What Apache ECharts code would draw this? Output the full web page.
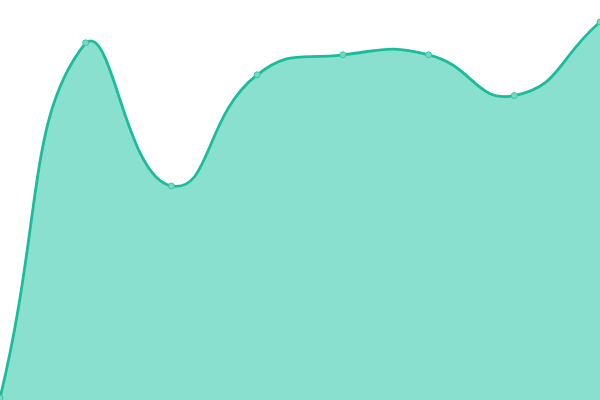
<!DOCTYPE html>
<html><head><meta charset="utf-8">
<script src="https://cdn.jsdelivr.net/npm/echarts@6/dist/echarts.min.js"></script>
<style>html,body{margin:0;padding:0;background:#fff}#c{width:600px;height:400px}</style>
</head><body><div id="c"></div>
<script>
var categories = ['1','2','3','4','5','6','7','8'];
var values = [0.5, 89.3, 53.5, 81.3, 86.3, 86.3, 76.1, 94.5];

var SMOOTH = 0.5;
function smoothPath(pts) {
  // Bezier smoothing constrained to the bounding box of the points
  var minX = Infinity, minY = Infinity, maxX = -Infinity, maxY = -Infinity;
  pts.forEach(function (p) {
    minX = Math.min(minX, p[0]); maxX = Math.max(maxX, p[0]);
    minY = Math.min(minY, p[1]); maxY = Math.max(maxY, p[1]);
  });
  var cps = [];
  for (var i = 0; i < pts.length; i++) {
    var p = pts[i];
    var prev = i === 0 ? p : pts[i - 1];
    var next = i === pts.length - 1 ? p : pts[i + 1];
    var vx = (next[0] - prev[0]) * SMOOTH, vy = (next[1] - prev[1]) * SMOOTH;
    var d0 = Math.hypot(p[0] - prev[0], p[1] - prev[1]);
    var d1 = Math.hypot(p[0] - next[0], p[1] - next[1]);
    var s = d0 + d1;
    if (s !== 0) { d0 /= s; d1 /= s; }
    var c0 = [p[0] - vx * d0, p[1] - vy * d0];
    var c1 = [p[0] + vx * d1, p[1] + vy * d1];
    [c0, c1].forEach(function (c) {
      c[0] = Math.min(Math.max(c[0], minX), maxX);
      c[1] = Math.min(Math.max(c[1], minY), maxY);
    });
    cps.push([c0, c1]);
  }
  var d = 'M' + pts[0][0] + ' ' + pts[0][1];
  for (var j = 1; j < pts.length; j++) {
    var a = cps[j - 1][1], b = cps[j][0];
    d += ' C' + a[0] + ' ' + a[1] + ' ' + b[0] + ' ' + b[1] + ' ' + pts[j][0] + ' ' + pts[j][1];
  }
  return d;
}

var chart = echarts.init(document.getElementById('c'));
chart.setOption({
  animation: false,
  grid: {left: 0, right: 0, top: 0, bottom: 0},
  xAxis: {type: 'category', data: categories, boundaryGap: false, show: false},
  yAxis: {type: 'value', min: 0, max: 100, show: false},
  series: [{
    type: 'custom',
    clip: false,
    data: values,
    renderItem: function (params, api) {
      if (params.dataIndex !== 0) return null;
      var pts = values.map(function (v, i) { return api.coord([i, v]); });
      var bottom = api.coord([0, 0])[1];
      var line = smoothPath(pts);
      var area = line + ' L' + pts[pts.length - 1][0] + ' ' + bottom + ' L' + pts[0][0] + ' ' + bottom + ' Z';
      var children = [
        {type: 'path', shape: {pathData: area}, style: {fill: '#89e0cf', stroke: null}},
        {type: 'path', shape: {pathData: line}, style: {fill: null, stroke: '#1abc9c', lineWidth: 2.8}}
      ];
      pts.forEach(function (p) {
        children.push({type: 'circle', shape: {cx: p[0], cy: p[1], r: 3},
          style: {fill: '#72d9c4', stroke: '#3cc4a8', lineWidth: 1}});
      });
      return {type: 'group', children: children};
    }
  }]
});
</script></body></html>
